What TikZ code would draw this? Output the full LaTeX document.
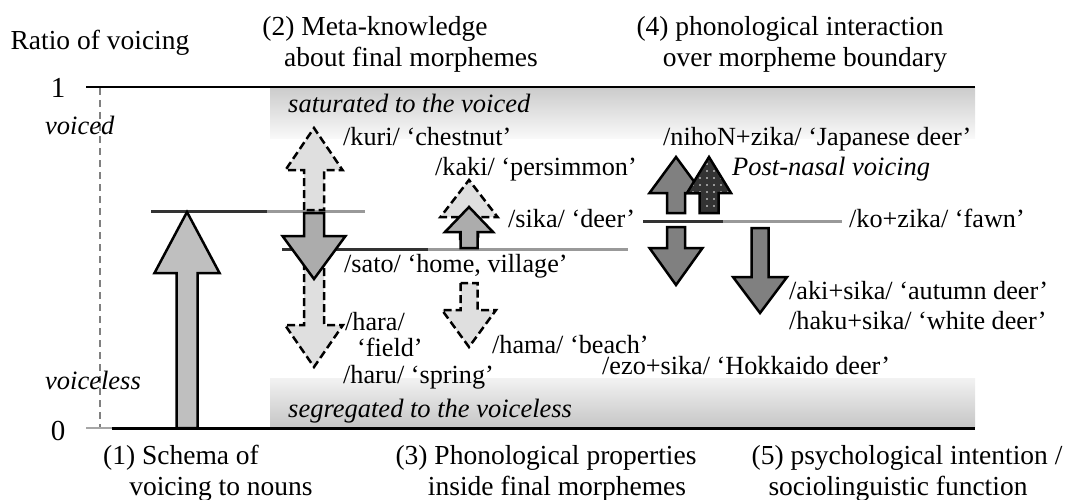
\documentclass[tikz,border=0pt]{standalone}
\usepackage{fontspec}
\setmainfont{Liberation Serif}
\usetikzlibrary{patterns.meta}

\begin{document}
\begin{tikzpicture}[x=1pt, y=-1pt,
    lab/.style={anchor=base west, inner sep=0pt, font=\fontsize{26.2}{30}\selectfont},
    itlab/.style={lab, font=\fontsize{26.5}{30}\selectfont\itshape},
    capt/.style={anchor=base, inner sep=0pt, font=\fontsize{27.5}{30}\selectfont},
    solidarr/.style={draw=black, line width=2.5pt, fill=#1},
    solidarr/.default=gray!65,
    dasharr/.style={draw=black, line width=2.5pt, dash pattern=on 8pt off 4pt, fill=gray!25},
    level/.style={line width=3pt}]
  \useasboundingbox (0,0) rectangle (1067,500);

  % saturated / segregated bands
  \shade[top color=gray!40, middle color=gray!45, bottom color=gray!5] (270,88) rectangle (975,138);
  \shade[top color=gray!10, middle color=gray!35, bottom color=gray!45] (270,378) rectangle (975,427);

  % axis
  \draw[gray, line width=1.2pt, dash pattern=on 7pt off 5pt] (100,88) -- (100,428);
  \draw[line width=2.5pt] (86,87) -- (975,87);
  \draw[gray!70, line width=2pt] (86,428) -- (112,428);
  \draw[line width=3pt] (112,428) -- (975,428);

  % levels
  \draw[level, black!80] (151,211) -- (267,211);
  \draw[level, black!40] (267,211) -- (365,211);
  \draw[level, black!80] (282,249) -- (428,249);
  \draw[level, black!40] (428,249) -- (628,249);
  \draw[level, black!80] (643,221) -- (723,221);
  \draw[level, black!40] (723,221) -- (842,221);

  % (1) schema
  \draw[solidarr=gray!50] (176.5,428) -- (176.5,273) -- (154.5,273) -- (187,212) -- (219.5,273)
    -- (197.5,273) -- (197.5,428) -- cycle;

  % (2) meta-knowledge
  \draw[dasharr] (304,210) -- (304,170) -- (285.5,170) -- (314,128) -- (342.5,170)
    -- (324,170) -- (324,210) -- cycle;
  \draw[dasharr] (304,250) -- (304,325) -- (285,325) -- (314,367) -- (343,325)
    -- (324,325) -- (324,250) -- cycle;
  \draw[solidarr] (304,213) -- (304,236) -- (282.5,236) -- (314,279) -- (345.5,236)
    -- (324,236) -- (324,213) -- cycle;

  % (3) phonological properties
  \draw[dasharr] (460,240) -- (460,217) -- (440.5,217) -- (469,180) -- (497.5,217)
    -- (478,217) -- (478,240) -- cycle;
  \draw[solidarr] (460.5,248) -- (460.5,232) -- (445,232) -- (469,207) -- (493,232)
    -- (477.5,232) -- (477.5,248) -- cycle;
  \draw[dasharr] (460.5,283) -- (460.5,310) -- (442,310) -- (469,347) -- (496,310)
    -- (477.5,310) -- (477.5,283) -- cycle;

  % (4) interaction over the boundary
  \draw[solidarr=gray] (667,213) -- (667,193) -- (649.5,193) -- (676,157) -- (702.5,193)
    -- (685,193) -- (685,213) -- cycle;
  \draw[draw=black, line width=2.5pt, preaction={fill=black!80},
      pattern={Dots[distance=7pt, radius=0.9pt]}, pattern color=white]
    (699.5,213) -- (699.5,193) -- (687,193) -- (709,157) -- (731,193)
    -- (718.5,193) -- (718.5,213) -- cycle;
  \draw[solidarr=gray] (667,227) -- (667,248) -- (649.5,248) -- (676,285) -- (702.5,248)
    -- (685,248) -- (685,227) -- cycle;
  \draw[solidarr=gray] (751.5,228) -- (751.5,277) -- (733,277) -- (760,313) -- (787,277)
    -- (768.5,277) -- (768.5,228) -- cycle;

  % axis labels
  \node[capt] (ratio) at (100,50) {Ratio of voicing};
  \node[capt, font=\fontsize{29}{30}\selectfont] (one) at (58,98) {1};
  \node[capt, font=\fontsize{29}{30}\selectfont] (zero) at (58,440) {0};
  \node[itlab] (voiced) at (45,134) {voiced};
  \node[itlab] (voiceless) at (45,389) {voiceless};
  \node[itlab] (saturated) at (288,113) {saturated to the voiced};
  \node[itlab] (segregated) at (288,417) {segregated to the voiceless};

  % headings
  \node[capt] (headA) at (375,36) {(2) Meta-knowledge};
  \node[capt] (headAb) at (411,67) {about final morphemes};
  \node[capt] (headB) at (790,36) {(4) phonological interaction};
  \node[capt] (headBb) at (805,67) {over morpheme boundary};
  \node[capt] (footA) at (181,464) {(1) Schema of};
  \node[capt] (footAb) at (221,495) {voicing to nouns};
  \node[capt] (footB) at (546,464) {(3) Phonological properties};
  \node[capt] (footBb) at (557,495) {inside final morphemes};
  \node[capt] (footC) at (907,464) {(5) psychological intention /};
  \node[capt] (footCb) at (898,495) {sociolinguistic function};

  % words
  \node[lab] (kuri) at (343,145) {/kuri/ ‘chestnut’};
  \node[lab] (kaki) at (435,175) {/kaki/ ‘persimmon’};
  \node[lab] (sika) at (508,227) {/sika/ ‘deer’};
  \node[lab] (sato) at (344,272) {/sato/ ‘home, village’};
  \node[lab] (hara) at (345,330) {/hara/};
  \node[lab] (field) at (357,356) {‘field’};
  \node[lab] (haru) at (343,383) {/haru/ ‘spring’};
  \node[lab] (hama) at (492,353) {/hama/ ‘beach’};
  \node[lab] (nihon) at (663,145) {/nihoN+zika/ ‘Japanese deer’};
  \node[itlab] (nasal) at (732,175) {Post-nasal voicing};
  \node[lab] (kozika) at (849,227) {/ko+zika/ ‘fawn’};
  \node[lab] (aki) at (789,299) {/aki+sika/ ‘autumn deer’};
  \node[lab] (haku) at (789,329) {/haku+sika/ ‘white deer’};
  \node[lab] (ezo) at (602,374) {/ezo+sika/ ‘Hokkaido deer’};
\end{tikzpicture}
\end{document}
